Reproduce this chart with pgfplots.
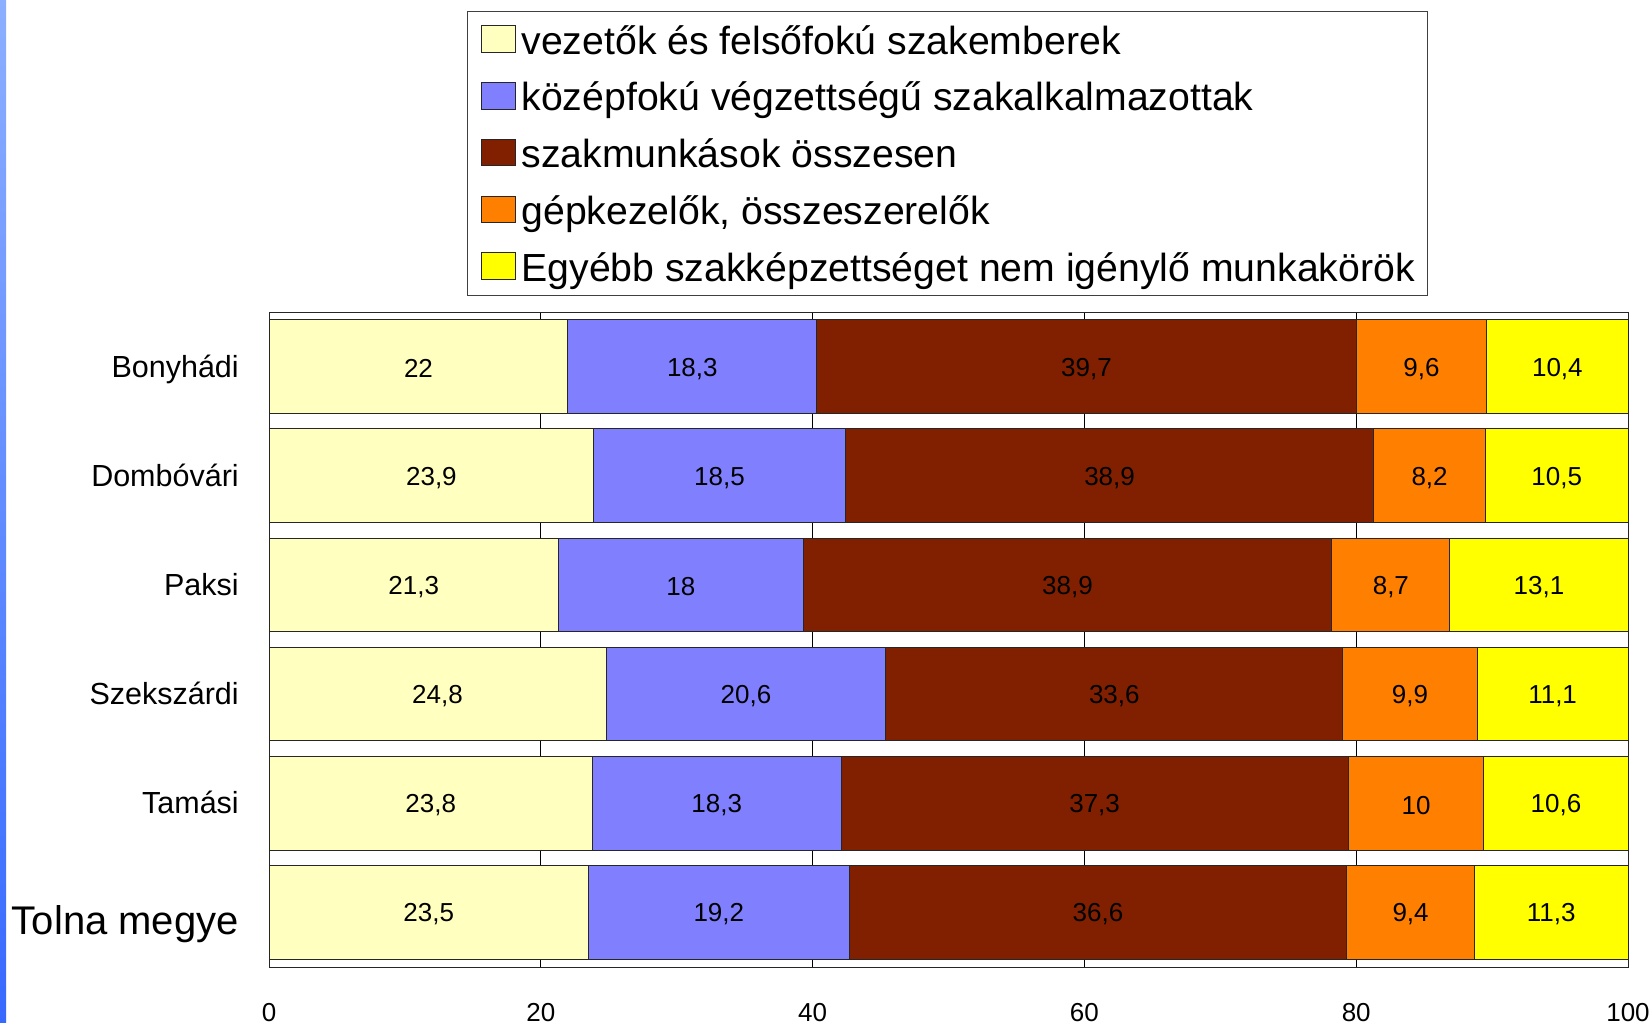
\documentclass[border=0pt]{standalone}
\usepackage{pgfplots}
\pgfplotsset{compat=1.18}
\usepackage{pgfplotstable}
\usepackage{fontspec}
\setmainfont{Liberation Sans}
\definecolor{cA}{RGB}{255,255,192}
\definecolor{cB}{RGB}{128,128,255}
\definecolor{cC}{RGB}{128,32,0}
\definecolor{cD}{RGB}{255,128,0}
\definecolor{cE}{RGB}{255,255,0}
\definecolor{stripT}{RGB}{140,175,255}
\definecolor{stripM}{RGB}{205,232,255}
\definecolor{stripB}{RGB}{55,105,255}
\pgfplotstableread{
y a b c d e
5 22 18.3 39.7 9.6 10.4
4 23.9 18.5 38.9 8.2 10.5
3 21.3 18 38.9 8.7 13.1
2 24.8 20.6 33.6 9.9 11.1
1 23.8 18.3 37.3 10 10.6
0 23.5 19.2 36.6 9.4 11.3
}\datatable
\pgfplotsset{
  swatch/.style={legend image code/.code={\draw[##1,draw=black!85,line width=0.5pt] (0pt,-6.4pt) rectangle (17pt,7.0pt);}},
}
\begin{document}
\begin{tikzpicture}
\useasboundingbox (0,0) rectangle (826pt,511pt);
\shade[top color=stripT, middle color=stripM, bottom color=stripB] (0,0) rectangle (3pt,511pt);
\begin{axis}[
  at={(134.5pt,27.5pt)}, anchor=south west,
  scale only axis, width=679.5pt, height=327.5pt,
  xbar stacked, bar width=46.9pt,
  xmin=0, xmax=100, ymin=-0.5, ymax=5.5,
  xtick={0,20,...,100}, ytick={0,...,5},
  yticklabels={{\raisebox{-5.6pt}{\fontsize{20}{22}\selectfont Tolna megye}},Tamási,Szekszárdi,Paksi,Dombóvári,Bonyhádi},
  major tick length=0pt,
  xmajorgrids, grid style={black, line width=0.5pt},
  axis line style={black!85, line width=0.5pt},
  /pgf/number format/assume math mode=true,
  xticklabel style={font=\fontsize{13}{15}\selectfont, yshift=-14.5pt},
  yticklabel style={font=\fontsize{15.25}{18}\selectfont, anchor=base east, xshift=-11.6pt, yshift=-5.35pt},
  clip=false,
  point meta=explicit,
  nodes near coords={\pgfmathprintnumber[use comma]{\pgfplotspointmeta}},
  every node near coord/.style={anchor=center, yshift=-1pt, font=\fontsize{13}{15}\selectfont, text=black},
  legend style={at={(0.1457,1.4603)}, anchor=north west, draw=black!75, line width=0.5pt, fill=white,
    inner xsep=6.5pt, inner ysep=5.5pt, row sep=10.92pt, column sep=3pt,
    font=\fontsize{19.6}{22}\selectfont, nodes={inner sep=0pt, text height=16pt, text depth=1.5pt}},
  legend cell align=left,
]
\addplot[swatch, fill=cA, draw=black!85, line width=0.5pt] table[x=a, y=y, meta=a] {\datatable};
\addplot[swatch, fill=cB, draw=black!85, line width=0.5pt] table[x=b, y=y, meta=b] {\datatable};
\addplot[swatch, fill=cC, draw=black!85, line width=0.5pt] table[x=c, y=y, meta=c] {\datatable};
\addplot[swatch, fill=cD, draw=black!85, line width=0.5pt] table[x=d, y=y, meta=d] {\datatable};
\addplot[swatch, fill=cE, draw=black!85, line width=0.5pt] table[x=e, y=y, meta=e] {\datatable};
\legend{vezetők és felsőfokú szakemberek, középfokú végzettségű szakalkalmazottak, szakmunkások összesen, {gépkezelők, összeszerelők}, Egyébb szakképzettséget nem igénylő munkakörök}
\end{axis}
\end{tikzpicture}
\end{document}
